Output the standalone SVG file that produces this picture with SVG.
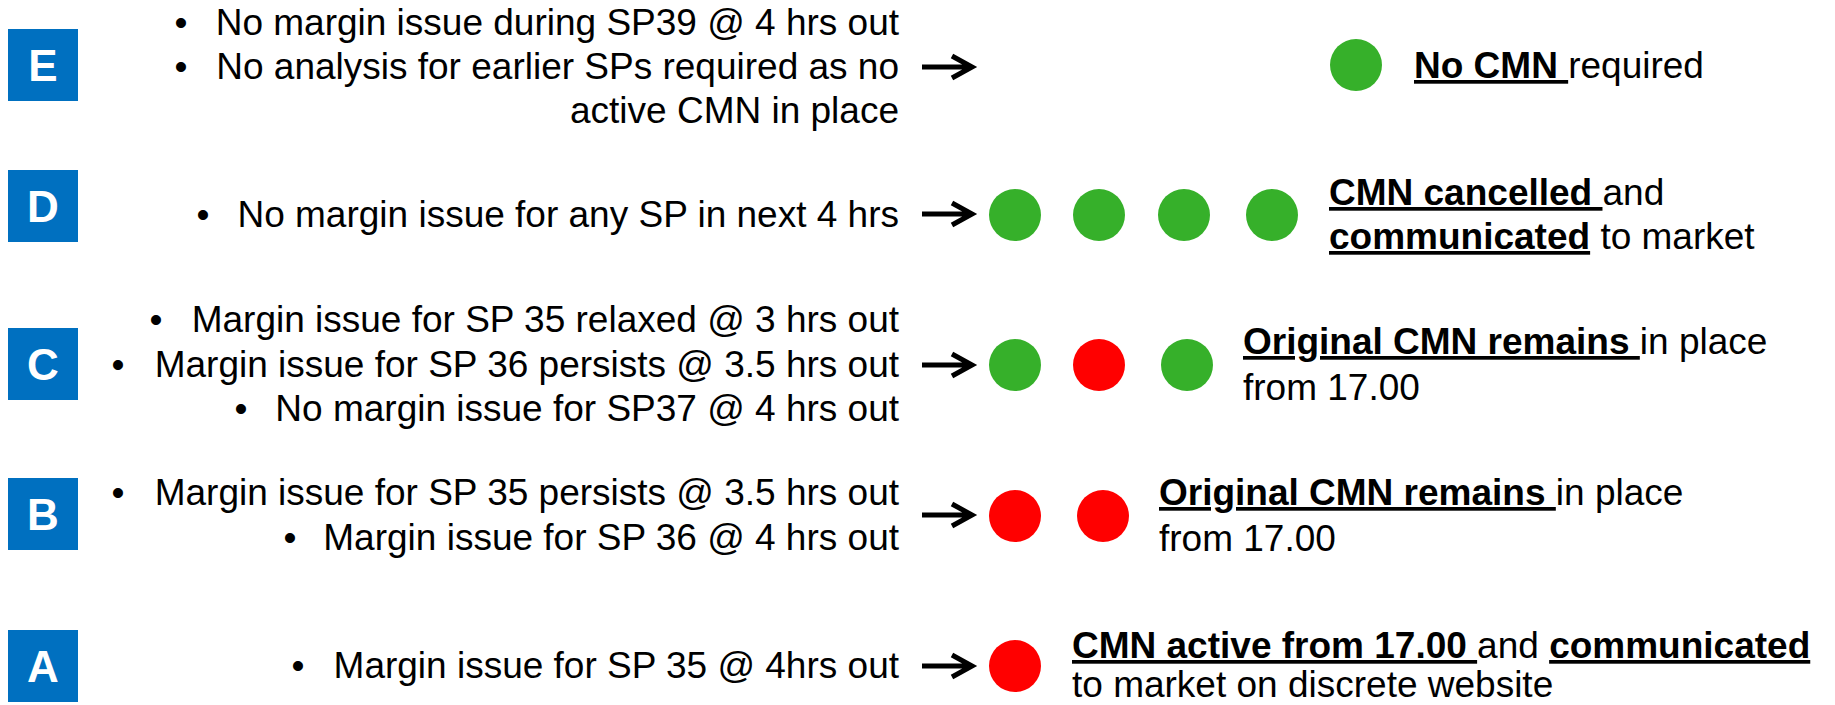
<svg xmlns="http://www.w3.org/2000/svg" width="1835" height="705" viewBox="0 0 1835 705">
<style>
.sq{fill:#0070C0}
.lt{font-family:"Liberation Sans",Arial,sans-serif;font-weight:bold;font-size:44px;fill:#fff;text-anchor:middle}
.tx{font-family:"Liberation Sans",Arial,sans-serif;font-size:37px;fill:#000}
.r{text-anchor:end}
.b{font-weight:bold;text-decoration:underline}
.bu{font-family:"Liberation Sans",Arial,sans-serif;font-size:37px;fill:#000;text-anchor:middle}
.g{fill:#36B02A}
.red{fill:#FF0000}
.arr{fill:none;stroke:#000;stroke-width:5}
</style>
<rect width="1835" height="705" fill="#fff"/>

<g id="label-E"><rect class="sq" x="8" y="29" width="70" height="72"/><text class="lt" x="43" y="81">E</text></g>
<g id="label-D"><rect class="sq" x="8" y="170" width="70" height="72"/><text class="lt" x="43" y="222">D</text></g>
<g id="label-C"><rect class="sq" x="8" y="328" width="70" height="72"/><text class="lt" x="43" y="380">C</text></g>
<g id="label-B"><rect class="sq" x="8" y="478" width="70" height="72"/><text class="lt" x="43" y="530">B</text></g>
<g id="label-A"><rect class="sq" x="8" y="630" width="70" height="72"/><text class="lt" x="43" y="682">A</text></g>

<g id="cond-E">
<text class="bu" x="181" y="35">•</text>
<text class="tx r" x="899" y="35">No margin issue during SP39 @ 4 hrs out</text>
<text class="bu" x="181" y="79">•</text>
<text class="tx r" x="899" y="79">No analysis for earlier SPs required as no</text>
<text class="tx r" x="899" y="123">active CMN in place</text>
</g>
<g id="cond-D">
<text class="bu" x="203" y="227">•</text>
<text class="tx r" x="899" y="227">No margin issue for any SP in next 4 hrs</text>
</g>
<g id="cond-C">
<text class="bu" x="156" y="332">•</text>
<text class="tx r" x="899" y="332">Margin issue for SP 35 relaxed @ 3 hrs out</text>
<text class="bu" x="118" y="377">•</text>
<text class="tx r" x="899" y="377">Margin issue for SP 36 persists @ 3.5 hrs out</text>
<text class="bu" x="241" y="421">•</text>
<text class="tx r" x="899" y="421">No margin issue for SP37 @ 4 hrs out</text>
</g>
<g id="cond-B">
<text class="bu" x="118" y="505">•</text>
<text class="tx r" x="899" y="505">Margin issue for SP 35 persists @ 3.5 hrs out</text>
<text class="bu" x="290" y="550">•</text>
<text class="tx r" x="899" y="550">Margin issue for SP 36 @ 4 hrs out</text>
</g>
<g id="cond-A">
<text class="bu" x="298" y="678">•</text>
<text class="tx r" x="899" y="678">Margin issue for SP 35 @ 4hrs out</text>
</g>

<g id="connectors">
<path class="arr" d="M922 67H971M952 56L972 67L952 78"/>
<path class="arr" d="M922 214H971M952 203L972 214L952 225"/>
<path class="arr" d="M922 365H971M952 354L972 365L952 376"/>
<path class="arr" d="M922 515H971M952 504L972 515L952 526"/>
<path class="arr" d="M922 666H971M952 655L972 666L952 677"/>
</g>

<g id="status-E"><circle class="g" cx="1356" cy="65" r="26"/></g>
<g id="status-D">
<circle class="g" cx="1015" cy="215" r="26"/>
<circle class="g" cx="1099" cy="215" r="26"/>
<circle class="g" cx="1184" cy="215" r="26"/>
<circle class="g" cx="1272" cy="215" r="26"/>
</g>
<g id="status-C">
<circle class="g" cx="1015" cy="365" r="26"/>
<circle class="red" cx="1099" cy="365" r="26"/>
<circle class="g" cx="1187" cy="365" r="26"/>
</g>
<g id="status-B">
<circle class="red" cx="1015" cy="516" r="26"/>
<circle class="red" cx="1103" cy="516" r="26"/>
</g>
<g id="status-A"><circle class="red" cx="1015" cy="666" r="26"/></g>

<g id="outcome-E">
<text class="tx" x="1414" y="78"><tspan class="b">No CMN </tspan>required</text>
</g>
<g id="outcome-D">
<text class="tx" x="1329" y="205"><tspan class="b">CMN cancelled </tspan>and</text>
<text class="tx" x="1329" y="249"><tspan class="b">communicated</tspan> to market</text>
</g>
<g id="outcome-C">
<text class="tx" x="1243" y="354"><tspan class="b">Original CMN remains </tspan>in place</text>
<text class="tx" x="1243" y="400">from 17.00</text>
</g>
<g id="outcome-B">
<text class="tx" x="1159" y="505"><tspan class="b">Original CMN remains </tspan>in place</text>
<text class="tx" x="1159" y="551">from 17.00</text>
</g>
<g id="outcome-A">
<text class="tx" x="1072" y="658"><tspan class="b">CMN active from 17.00 </tspan>and <tspan class="b">communicated</tspan></text>
<text class="tx" x="1072" y="697">to market on discrete website</text>
</g>
</svg>
